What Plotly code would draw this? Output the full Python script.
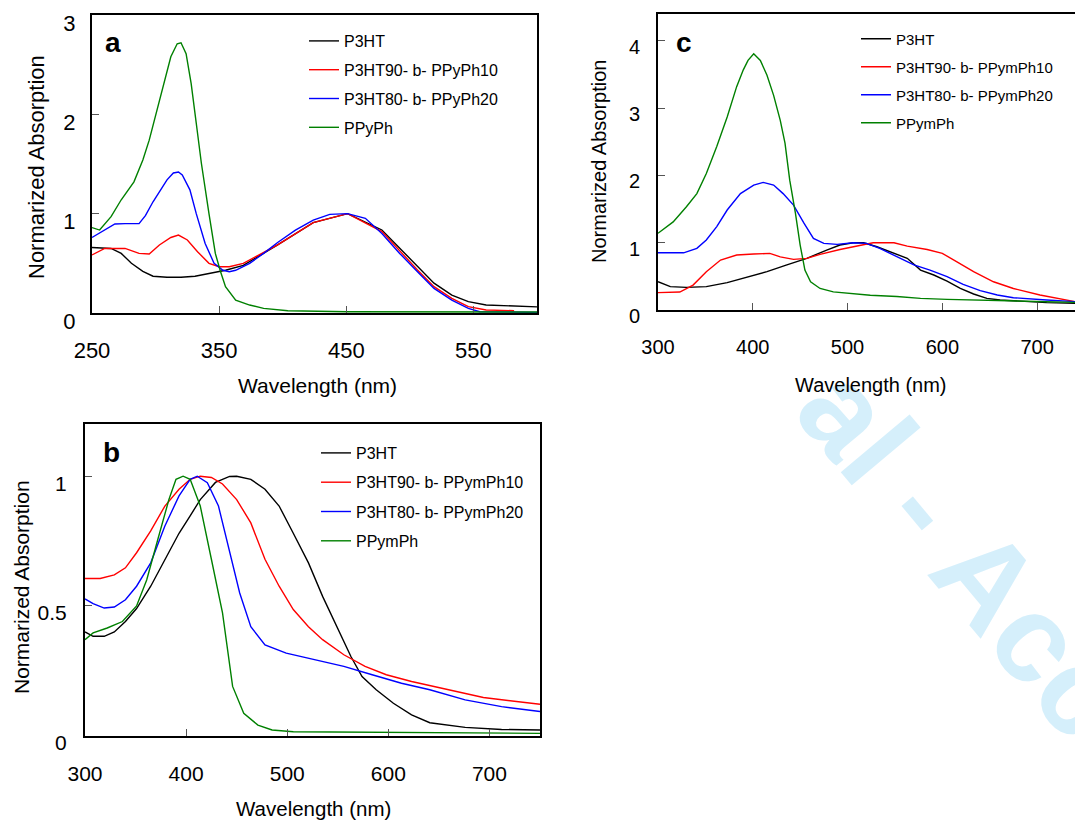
import plotly.graph_objects as go

# ---------------- panel a : P3HT-b-PPyPh ----------------
a_wl_p3ht = [250, 265, 273, 281, 290, 298, 309, 320, 331, 342, 355, 369, 396, 424, 451, 478, 506, 519, 533, 546, 560, 574, 587, 600]
a_ab_p3ht = [0.66, 0.65, 0.60, 0.50, 0.42, 0.37, 0.36, 0.36, 0.37, 0.40, 0.43, 0.48, 0.685, 0.91, 1.0, 0.836, 0.466, 0.30, 0.18, 0.114, 0.08, 0.074, 0.064, 0.062]

a_wl_90 = [250, 260, 268, 276, 287, 295, 303, 312, 318, 325, 333, 342, 350, 358, 369, 396, 424, 451, 478, 506, 519, 533, 546, 560, 582]
a_ab_90 = [0.584, 0.65, 0.65, 0.65, 0.60, 0.594, 0.685, 0.76, 0.785, 0.735, 0.617, 0.50, 0.466, 0.466, 0.50, 0.685, 0.91, 1.0, 0.82, 0.433, 0.265, 0.148, 0.064, 0.03, 0.023]

a_wl_80 = [250, 260, 268, 276, 287, 292, 298, 303, 309, 314, 318, 321, 327, 332, 339, 346, 353, 358, 363, 374, 385, 396, 410, 424, 437, 451, 465, 478, 492, 506, 519, 533, 546, 555, 600]
a_ab_80 = [0.76, 0.835, 0.896, 0.90, 0.90, 0.98, 1.12, 1.22, 1.34, 1.41, 1.42, 1.39, 1.24, 1.0, 0.70, 0.50, 0.43, 0.416, 0.43, 0.50, 0.60, 0.71, 0.835, 0.936, 0.993, 1.0, 0.953, 0.80, 0.60, 0.416, 0.248, 0.13, 0.047, 0.013, 0.006]

a_wl_ppyph = [250, 256, 265, 273, 283, 290, 295, 301, 306, 312, 317, 320, 324, 328, 332, 336, 342, 347, 351, 355, 363, 374, 385, 404, 451, 600]
a_ab_ppyph = [0.86, 0.835, 0.97, 1.14, 1.32, 1.54, 1.74, 2.04, 2.31, 2.58, 2.71, 2.72, 2.61, 2.31, 1.91, 1.51, 1.0, 0.60, 0.42, 0.265, 0.13, 0.08, 0.047, 0.023, 0.013, 0.01]

# ---------------- panel c : P3HT-b-PPymPh (solution) ----------------
c_wl_p3ht = [300, 313, 330, 351, 373, 394, 415, 436, 457, 478, 492, 506, 517, 531, 549, 563, 577, 591, 605, 619, 633, 647, 661, 686, 710, 740]
c_ab_p3ht = [0.42, 0.347, 0.337, 0.347, 0.406, 0.485, 0.57, 0.67, 0.768, 0.89, 0.966, 1.0, 1.0, 0.94, 0.842, 0.768, 0.594, 0.52, 0.43, 0.32, 0.238, 0.173, 0.149, 0.124, 0.109, 0.099]

c_wl_90 = [300, 323, 337, 351, 366, 383, 401, 418, 429, 443, 457, 471, 492, 513, 527, 549, 563, 584, 600, 615, 633, 654, 675, 703, 725, 740]
c_ab_90 = [0.258, 0.267, 0.37, 0.57, 0.743, 0.817, 0.832, 0.842, 0.79, 0.753, 0.768, 0.827, 0.90, 0.966, 1.0, 1.0, 0.95, 0.90, 0.842, 0.718, 0.57, 0.42, 0.32, 0.223, 0.158, 0.124]

c_wl_80 = [300, 327, 341, 351, 362, 373, 387, 401, 411, 422, 432, 443, 454, 464, 475, 489, 506, 520, 534, 552, 570, 587, 605, 622, 640, 658, 675, 710, 740]
c_ab_80 = [0.85, 0.85, 0.916, 1.04, 1.24, 1.486, 1.73, 1.857, 1.897, 1.857, 1.73, 1.56, 1.29, 1.065, 0.99, 0.976, 1.0, 0.99, 0.916, 0.79, 0.67, 0.594, 0.495, 0.38, 0.287, 0.223, 0.183, 0.149, 0.124]

c_wl_ppymph = [300, 316, 330, 341, 351, 362, 373, 383, 390, 395, 401, 408, 415, 422, 429, 434, 439, 445, 450, 455, 461, 471, 485, 499, 524, 552, 577, 605, 640, 675, 710, 740]
c_ab_ppymph = [1.14, 1.31, 1.535, 1.73, 2.03, 2.43, 2.87, 3.32, 3.57, 3.71, 3.81, 3.71, 3.49, 3.19, 2.82, 2.48, 1.93, 1.44, 0.966, 0.594, 0.42, 0.32, 0.27, 0.25, 0.22, 0.20, 0.173, 0.158, 0.149, 0.134, 0.124, 0.114]

# ---------------- panel b : P3HT-b-PPymPh (film) ----------------
b_wl_p3ht = [300, 308, 319, 329, 340, 351, 365, 379, 393, 404, 414, 429, 443, 450, 464, 478, 492, 506, 521, 535, 549, 563, 574, 588, 605, 623, 641, 659, 676, 712, 750]
b_ab_p3ht = [0.40, 0.383, 0.383, 0.40, 0.44, 0.49, 0.576, 0.68, 0.78, 0.847, 0.91, 0.976, 0.999, 1.0, 0.988, 0.95, 0.885, 0.78, 0.666, 0.537, 0.42, 0.305, 0.228, 0.177, 0.125, 0.08, 0.05, 0.041, 0.032, 0.024, 0.022]

b_wl_90 = [300, 315, 329, 340, 351, 365, 379, 393, 404, 414, 425, 436, 450, 464, 478, 492, 506, 521, 535, 556, 577, 598, 623, 659, 694, 750]
b_ab_90 = [0.606, 0.606, 0.62, 0.647, 0.705, 0.789, 0.885, 0.95, 0.988, 1.0, 0.995, 0.97, 0.91, 0.82, 0.68, 0.576, 0.486, 0.42, 0.37, 0.312, 0.267, 0.235, 0.209, 0.177, 0.147, 0.121]

b_wl_80 = [300, 308, 319, 329, 340, 351, 365, 379, 393, 404, 411, 421, 432, 443, 453, 464, 478, 499, 528, 556, 584, 613, 641, 676, 712, 750]
b_ab_80 = [0.527, 0.509, 0.492, 0.496, 0.524, 0.576, 0.666, 0.808, 0.924, 0.988, 1.0, 0.975, 0.885, 0.705, 0.55, 0.42, 0.35, 0.318, 0.292, 0.267, 0.235, 0.202, 0.177, 0.138, 0.112, 0.093]

b_wl_ppymph = [300, 308, 322, 337, 351, 361, 372, 383, 390, 397, 404, 414, 425, 436, 446, 457, 471, 485, 506, 570, 750]
b_ab_ppymph = [0.37, 0.396, 0.415, 0.44, 0.50, 0.60, 0.756, 0.91, 0.988, 1.0, 0.988, 0.885, 0.68, 0.473, 0.19, 0.086, 0.041, 0.022, 0.015, 0.013, 0.009]

names_a = ["P3HT", "P3HT90- b- PPyPh10", "P3HT80- b- PPyPh20", "PPyPh"]
names_bc = ["P3HT", "P3HT90- b- PPymPh10", "P3HT80- b- PPymPh20", "PPymPh"]
colors = ["#000000", "#ff0000", "#0000ff", "#008000"]

W, H = 1075, 821
FONT = "Liberation Sans, Arial, sans-serif"


def px(x):
    return x / W


def py(y):
    return 1 - y / H


fig = go.Figure()

panels = [
    ("x", "y", "legend", names_a,
     [(a_wl_p3ht, a_ab_p3ht), (a_wl_90, a_ab_90), (a_wl_80, a_ab_80), (a_wl_ppyph, a_ab_ppyph)]),
    ("x2", "y2", "legend2", names_bc,
     [(c_wl_p3ht, c_ab_p3ht), (c_wl_90, c_ab_90), (c_wl_80, c_ab_80), (c_wl_ppymph, c_ab_ppymph)]),
    ("x3", "y3", "legend3", names_bc,
     [(b_wl_p3ht, b_ab_p3ht), (b_wl_90, b_ab_90), (b_wl_80, b_ab_80), (b_wl_ppymph, b_ab_ppymph)]),
]
for xa, ya, lg, names, series in panels:
    for i, (wl, ab) in enumerate(series):
        fig.add_trace(go.Scatter(
            x=wl, y=ab, mode="lines", name=names[i],
            line=dict(color=colors[i], width=1.4),
            xaxis=xa, yaxis=ya, legend=lg, legendgroup=lg + str(i),
        ))

axis_common = dict(showline=True, linecolor="black", linewidth=2, ticks="inside",
                   ticklen=7, tickcolor="#555", tickwidth=1, showgrid=False,
                   zeroline=False, automargin=False, ticklabeloverflow="allow")

fig.update_layout(
    width=W, height=H,
    margin=dict(l=0, r=0, t=0, b=0, autoexpand=False),
    paper_bgcolor="white", plot_bgcolor="white",
    font=dict(family=FONT, color="black"),
    # panel a
    xaxis=dict(axis_common, domain=[px(92), px(537)], range=[250, 600], mirror=True,
               tickvals=[250, 350, 450, 550], tickfont=dict(size=22),
               ticklabelstandoff=17, anchor="y"),
    yaxis=dict(axis_common, domain=[py(313), py(15)], range=[0, 3], mirror=True,
               tickvals=[0, 1, 2, 3], tickfont=dict(size=22),
               ticklabelstandoff=10, ticklabelshift=8, anchor="x"),
    # panel c
    xaxis2=dict(axis_common, domain=[px(658), 1.0], range=[300, 740], mirror=True,
                tickvals=[300, 400, 500, 600, 700], tickfont=dict(size=20),
                ticklabelstandoff=18, anchor="y2"),
    yaxis2=dict(axis_common, domain=[py(310), py(14)], range=[0, 4.4], mirror=False,
                tickvals=[0, 1, 2, 3, 4], tickfont=dict(size=20),
                ticklabelstandoff=12, ticklabelshift=6, anchor="x2"),
    # panel b
    xaxis3=dict(axis_common, domain=[px(85), px(540)], range=[300, 750], mirror=True,
                tickvals=[300, 400, 500, 600, 700], tickfont=dict(size=21),
                ticklabelstandoff=18, anchor="y3"),
    yaxis3=dict(axis_common, domain=[py(735.7), py(424.3)], range=[0, 1.2], mirror=True,
                tickvals=[0, 0.5, 1], ticktext=["0", "0.5", "1"], tickfont=dict(size=21),
                ticklabelstandoff=12, ticklabelshift=7, anchor="x3"),
    legend=dict(x=px(304), y=py(24), xanchor="left", yanchor="top",
                font=dict(size=16), tracegroupgap=5, bgcolor="rgba(0,0,0,0)"),
    legend2=dict(x=px(856), y=py(22.5), xanchor="left", yanchor="top",
                 font=dict(size=15), tracegroupgap=5.5, bgcolor="rgba(0,0,0,0)"),
    legend3=dict(x=px(316), y=py(436), xanchor="left", yanchor="top",
                 font=dict(size=16), tracegroupgap=5.5, bgcolor="rgba(0,0,0,0)"),
)

# faint watermark first, so the other texts sit on top of it
ann = [dict(text="<b>al - Acc</b>", x=px(964), y=py(552), xref="paper", yref="paper",
            showarrow=False, textangle=50, font=dict(size=124, color="#d5effb"),
            xanchor="center", yanchor="middle")]
# panel letters
for txt, x, y in [("a", 113, 43), ("c", 684, 42), ("b", 111, 453)]:
    ann.append(dict(text="<b>%s</b>" % txt, x=px(x), y=py(y), xref="paper", yref="paper",
                    showarrow=False, font=dict(size=28), xanchor="center", yanchor="middle"))
# axis titles
for x, y, size in [(37, 167, 22), (599, 162, 20), (21, 587, 21)]:
    ann.append(dict(text="Normarized Absorption", x=px(x), y=py(y), xref="paper", yref="paper",
                    showarrow=False, textangle=-90, font=dict(size=size),
                    xanchor="center", yanchor="middle"))
for x, y, size in [(317, 385, 21), (871, 385, 20), (313, 808, 20.5)]:
    ann.append(dict(text="Wavelength (nm)", x=px(x), y=py(y), xref="paper", yref="paper",
                    showarrow=False, font=dict(size=size), xanchor="center", yanchor="middle"))
fig.update_layout(annotations=ann)

fig.write_html("out.html", config={"displayModeBar": False},
               post_script="document.body.style.margin='0px';")
